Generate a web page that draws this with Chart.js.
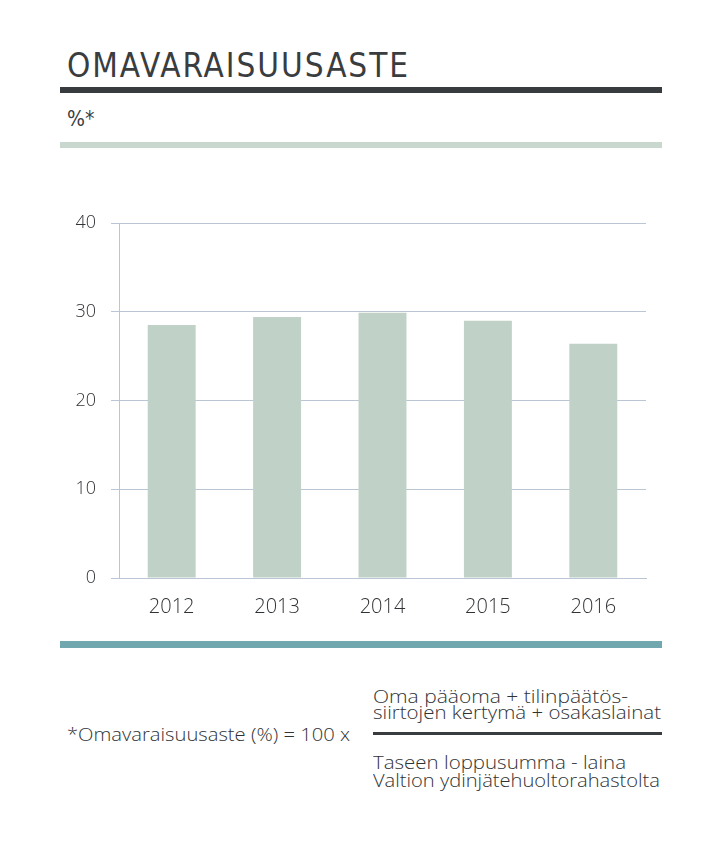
<!DOCTYPE html>
<html lang="fi">
<head>
<meta charset="utf-8">
<title>Omavaraisuusaste</title>
<script src="https://cdn.jsdelivr.net/npm/chart.js@4/dist/chart.umd.min.js"></script>
<style>
  html, body { margin: 0; padding: 0; background: #fff; }
  body { width: 723px; height: 843px; position: relative; overflow: hidden; color: #3a3d40; }
  .abs { position: absolute; white-space: nowrap; line-height: 1; transform-origin: 0 0; }
  .title { left: 67px; top: 46px; font: 33px "DejaVu Sans Condensed", "DejaVu Sans", sans-serif; }
  .unit { left: 67px; top: 107px; font: 21px "DejaVu Sans Condensed", "DejaVu Sans", sans-serif; }
  .rule { position: absolute; left: 60px; width: 602px; }
  .foot { font: 300 18px "Open Sans", "DejaVu Sans", sans-serif; color: #303336; }
  #chartBox { position: absolute; left: 60px; top: 205px; width: 602px; height: 430px; }
</style>
</head>
<body>
<div class="abs title" data-w="341">OMAVARAISUUSASTE</div>
<div class="rule" style="top:87px;height:6px;background:#393c3e;"></div>
<div class="abs unit">%*</div>
<div class="rule" style="top:142px;height:6px;background:#c9d8ce;"></div>

<div id="chartBox"><canvas id="equityChart"></canvas></div>

<div class="rule" style="top:641px;height:7px;background:#71a8b0;"></div>

<div class="abs foot" style="left:67px;top:722px;" data-w="283" data-scale="1">*Omavaraisuusaste (%) = 100 x</div>
<div class="abs foot" style="left:373px;top:683.5px;" data-w="255" data-scale="1">Oma pääoma + tilinpäätös-</div>
<div class="abs foot" style="left:373px;top:700px;" data-w="288" data-scale="1">siirtojen kertymä + osakaslainat</div>
<div style="position:absolute;left:373px;top:732px;width:289px;height:3px;background:#393c3e;"></div>
<div class="abs foot" style="left:373px;top:750px;" data-w="253" data-scale="1">Taseen loppusumma - laina</div>
<div class="abs foot" style="left:373px;top:768px;" data-w="287" data-scale="1">Valtion ydinjätehuoltorahastolta</div>

<script>
// Vuodet ja omavaraisuusaste (%)
const years = ['2012', '2013', '2014', '2015', '2016'];
const equityRatio = [28.5, 29.4, 29.9, 29.0, 26.4];
const yTicks = [0, 10, 20, 30, 40];

const BAR_COLOR = '#c0d2c7';
const GRID_COLOR = '#bac6d3';
const TEXT_COLOR = '#303336';
const NUM_FONT = '"Open Sans", "DejaVu Sans", sans-serif';

// sovitetaan tekstit alkuperäisen leveyteen (kapea kirjasin -> vaakaskaalaus)
function fitText() {
    document.querySelectorAll('[data-w]').forEach(el => {
        const target = parseFloat(el.dataset.w);
        const natural = el.getBoundingClientRect().width;
        if (el.dataset.scale) {
            el.style.transform = 'scaleX(' + (target / natural) + ')';
        } else {
            const n = el.textContent.length - 1;
            if (n > 0) el.style.letterSpacing = ((target - natural) / n) + 'px';
        }
    });
}
fitText();

const ctx = document.getElementById('equityChart').getContext('2d');
window.equityChart = new Chart(ctx, {
    type: 'bar',
    data: {
        labels: years,
        datasets: [{
            label: 'Omavaraisuusaste',
            data: equityRatio,
            backgroundColor: BAR_COLOR,
            borderWidth: 0,
            categoryPercentage: 1,
            barPercentage: 0.455
        }]
    },
    options: {
        responsive: true,
        maintainAspectRatio: false,
        animation: false,
        layout: { padding: { top: 18, right: 16, left: 0, bottom: 0 } },
        scales: {
            x: {
                grid: { display: false, drawTicks: false },
                border: { display: true, color: GRID_COLOR, width: 1 },
                ticks: {
                    padding: 17,
                    color: TEXT_COLOR,
                    font: { family: NUM_FONT, size: 20, weight: 300 }
                },
                afterFit: scale => { scale.height = 57; }
            },
            y: {
                min: 0,
                max: 40,
                afterBuildTicks: scale => { scale.ticks = yTicks.map(v => ({ value: v })); },
                grid: { color: GRID_COLOR, tickLength: 8, tickColor: GRID_COLOR, lineWidth: 1 },
                border: { display: true, color: GRID_COLOR, width: 1 },
                ticks: {
                    padding: 15,
                    color: TEXT_COLOR,
                    font: { family: NUM_FONT, size: 18, weight: 300 }
                },
                afterFit: scale => {
                    scale.width = 59;
                    // ei ylimääräistä tilaa ylimmän tikkitekstin takia
                    scale.paddingTop = 0;
                    scale.paddingBottom = 0;
                }
            }
        },
        plugins: {
            legend: { display: false },
            tooltip: { enabled: false }
        }
    }
});
</script>
</body>
</html>
